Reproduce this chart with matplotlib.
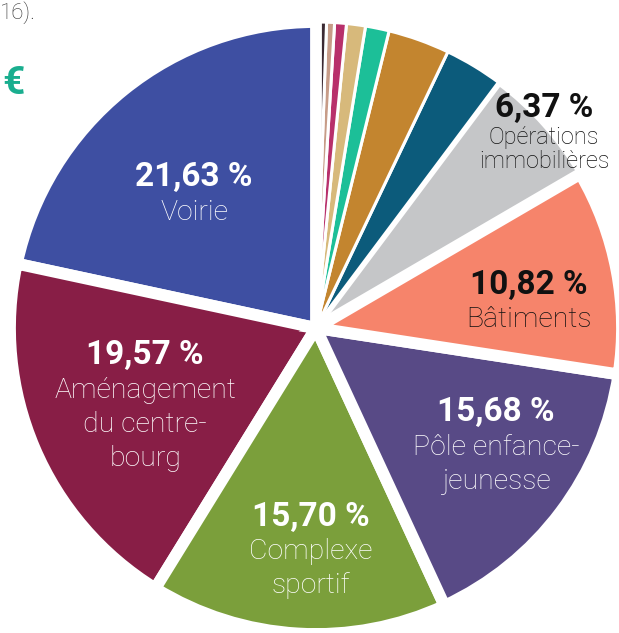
import numpy as np
import matplotlib
matplotlib.use('Agg')
import matplotlib.pyplot as plt

plt.rcParams['font.family'] = ['Roboto', 'DejaVu Sans']

# slices, counter-clockwise from 12 o'clock
shares = [21.63, 19.57, 15.70, 15.68, 10.82, 6.37, 3.14, 3.25, 1.25, 1.00, 0.62, 0.42, 0.55]
pct_labels = ['21,63 %', '19,57 %', '15,70 %', '15,68 %', '10,82 %', '6,37 %']
names = ['Voirie', 'Aménagement\ndu centre-\nbourg', 'Complexe\nsportif',
         'Pôle enfance-\njeunesse', 'Bâtiments', 'Opérations\nimmobilières']
colors = ['#3e4fa2', '#881e46', '#7b9f3b', '#584a86', '#f6846b', '#c5c6c8',
          '#0c5b7b', '#c3852f', '#1cbf98', '#d7b97b', '#b8306b', '#c79c88', '#3b2a33']
text_colors = ['white', 'white', 'white', 'white', '#111111', '#111111']

# label placement: fraction of radius, angle nudge (deg)
lab_dist = [0.59, 0.615, 0.73, 0.705, 0.70, 0.975]
lab_nudge = [3.5, 1.7, 2.0, 3.5, -3.9, -1.6]

W, H = 619, 633
cx, cy, R = 316, 328, 306   # centre / radius in pixels

fig = plt.figure(figsize=(W / 100, H / 100), dpi=100)
fig.patch.set_facecolor('white')
ax = fig.add_axes([0, 0, 1, 1])

wedges, _ = ax.pie(shares, colors=colors, startangle=90, counterclock=True,
                   wedgeprops=dict(edgecolor='white', linewidth=2.2))
for i, w in enumerate(wedges):
    if i < 5:
        w.set_linewidth(8.5)
        w.set_zorder(3)
    elif i == 5:
        w.set_linewidth(4)
        w.set_zorder(2.5)
    else:
        w.set_zorder(2)

ax.set_xlim(-cx / R, (W - cx) / R)
ax.set_ylim(-(H - cy) / R, cy / R)
ax.set_aspect('equal')
ax.axis('off')

cum = np.cumsum([0] + shares)
for i in range(len(pct_labels)):
    mid = 90 + (cum[i] + cum[i + 1]) / 2 * 3.6 + lab_nudge[i]
    x = lab_dist[i] * np.cos(np.radians(mid))
    y = lab_dist[i] * np.sin(np.radians(mid))
    lines = [pct_labels[i]] + names[i].split('\n')
    small = (i == 5)
    gap, step = (30, 24) if small else (35, 34)
    ys = [0] + [-gap - k * step for k in range(len(lines) - 1)]
    ys = np.array(ys) - np.mean(ys)
    for j, t in enumerate(lines):
        if j == 0:
            ax.annotate(t, (x, y), xytext=(0, ys[j] * 0.72), textcoords='offset points',
                        ha='center', va='center', color=text_colors[i],
                        fontsize=24, fontweight='bold', zorder=5)
        else:
            ax.annotate(t, (x, y), xytext=(0, ys[j] * 0.72), textcoords='offset points',
                        ha='center', va='center', color=text_colors[i],
                        fontsize=17 if small else 20.5, fontweight='light', zorder=5)

# fragments of the surrounding page
fig.text(0, 1 - 13 / H, '16).', ha='left', va='center', fontsize=16,
         color='#333333', fontweight='light')
fig.text(2 / W, 1 - 84 / H, '€', ha='left', va='center', fontsize=28,
         color='#1aae8f', fontweight='bold')

fig.savefig('out.png', dpi=100, facecolor='white')
